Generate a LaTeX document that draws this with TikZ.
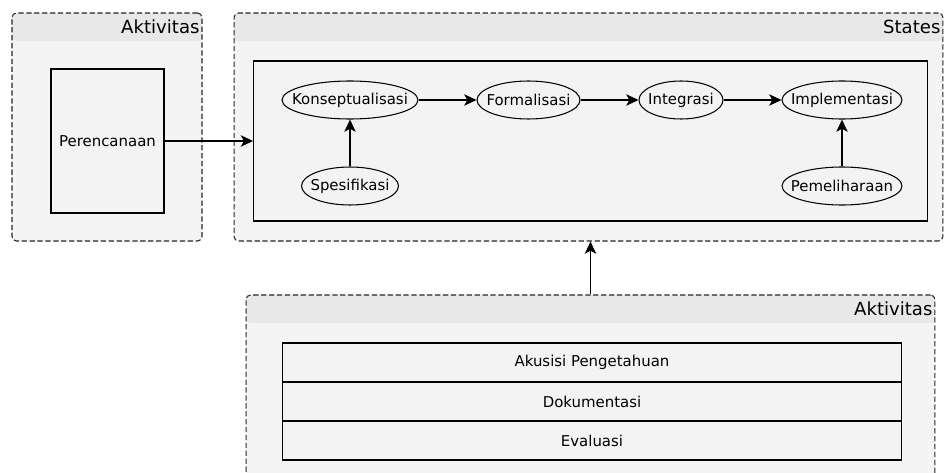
\documentclass[tikz,border=0pt]{standalone}
\usepackage{fontspec}
\setmainfont{DejaVu Sans}
\usetikzlibrary{positioning, arrows.meta, shapes.geometric}
\definecolor{pkgcolor}{RGB}{244,244,244}
\definecolor{headcolor}{RGB}{232,232,232}
\definecolor{boxcolor}{RGB}{243,243,243}
\tikzset{
  pkg/.style={draw=black!85, dash pattern=on 3pt off 1.5pt, line width=0.6pt, rounded corners=2.5pt, fill=pkgcolor,
    path picture={\fill[headcolor] (path picture bounding box.north west) rectangle ([yshift=-0.56cm]path picture bounding box.north east);}},
  pkgtitle/.style={font=\fontsize{10.3}{12}\selectfont, inner xsep=1.5pt, inner ysep=0pt, minimum height=0.56cm, anchor=north east},
  box/.style={draw, line width=0.6pt, fill=boxcolor, font=\fontsize{8.5}{10}\selectfont, outer sep=0pt},
  state/.style={draw, ellipse, line width=0.6pt, fill=boxcolor, font=\fontsize{8.5}{10}\selectfont, inner xsep=-30pt, inner ysep=0pt, minimum height=0.76cm},
  arr/.style={-{Stealth[length=7pt, width=6.5pt, inset=1.8pt]}, line width=0.6pt}
}
\begin{document}
\begin{tikzpicture}[x=0.02cm, y=-0.02cm]
    \path[use as bounding box, clip] (0,0) rectangle (947,473);
    \fill[white] (0,0) rectangle (947,473);

    % Paket kiri
    \node[pkg, minimum width=3.8cm, minimum height=4.56cm] (aktivitasA) at (107,127) {};
    \node[pkgtitle] (judulA) at (aktivitasA.north east) {Aktivitas};
    \node[box, minimum width=2.26cm, minimum height=2.88cm] (perencanaan) at (107.5,141) {Perencanaan};

    % Paket states
    \node[pkg, minimum width=14.18cm, minimum height=4.56cm] (statesPkg) at (588.5,127) {};
    \node[pkgtitle] (judulS) at (statesPkg.north east) {States};
    \node[box, minimum width=13.5cm, minimum height=3.2cm] (proses) at (590.5,141) {};

    % State
    \node[state, minimum width=2.72cm] (konsep) at (350,100) {Konseptualisasi};
    \node[state, minimum width=2.06cm] (formal) at (528.5,100) {Formalisasi};
    \node[state, minimum width=1.68cm] (integrasi) at (681,100) {Integrasi};
    \node[state, minimum width=2.4cm] (implementasi) at (842,100) {Implementasi};
    \node[state, minimum width=1.94cm] (spesifikasi) at (350,186) {Spesifikasi};
    \node[state, minimum width=2.4cm] (pemeliharaan) at (842,186) {Pemeliharaan};

    \draw[arr] (perencanaan.east) -- (proses.west);
    \draw[arr] (konsep) -- (formal);
    \draw[arr] (formal) -- (integrasi);
    \draw[arr] (integrasi) -- (implementasi);
    \draw[arr] (spesifikasi) -- (konsep);
    \draw[arr] (pemeliharaan) -- (implementasi);

    % Paket bawah
    \node[pkg, minimum width=13.78cm, minimum height=4cm] (aktivitasB) at (590.5,395) {};
    \node[pkgtitle] (judulB) at (aktivitasB.north east) {Aktivitas};
    \node[box, minimum width=12.4cm, minimum height=0.78cm] (akusisi) at (592,362.5) {Akusisi Pengetahuan};
    \node[box, minimum width=12.4cm, minimum height=0.78cm, below=0pt of akusisi] (dokumentasi) {Dokumentasi};
    \node[box, minimum width=12.4cm, minimum height=0.78cm, below=0pt of dokumentasi] (evaluasi) {Evaluasi};

    \draw[arr] (aktivitasB.north) -- (aktivitasB.north |- statesPkg.south);
\end{tikzpicture}
\end{document}
